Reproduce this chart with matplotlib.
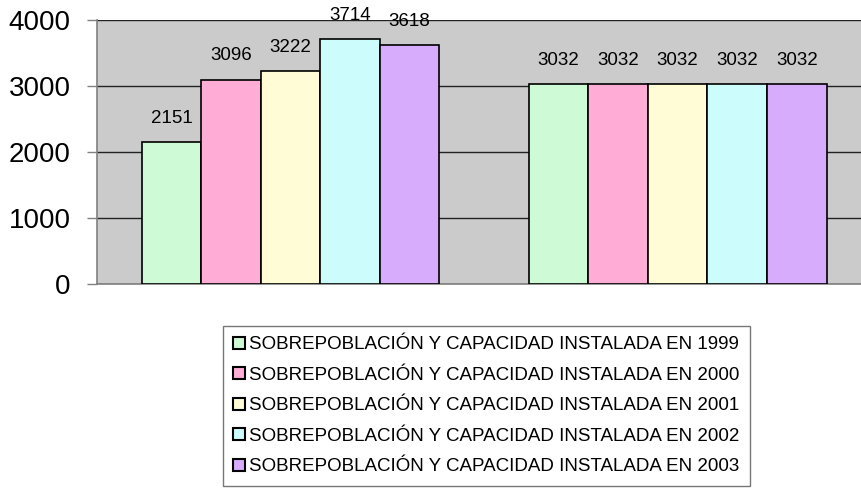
import matplotlib.pyplot as plt
import numpy as np

plt.rcParams['font.family'] = ['Liberation Sans', 'DejaVu Sans']

# two groups, five series (years)
groups = ['Sobrepoblación', 'Capacidad instalada']
years = ['1999', '2000', '2001', '2002', '2003']
values_1999 = [2151, 3032]
values_2000 = [3096, 3032]
values_2001 = [3222, 3032]
values_2002 = [3714, 3032]
values_2003 = [3618, 3032]
series = [values_1999, values_2000, values_2001, values_2002, values_2003]
colors = ['#CFFAD6', '#FFADD6', '#FFFCD6', '#CCFCFC', '#D8ACFC']

fig = plt.figure(figsize=(8.62, 4.98), dpi=100)
ax = fig.add_axes([97 / 862, 1 - 284 / 498, 1 - 97 / 862, (284 - 20) / 498])
ax.set_facecolor('#CBCBCB')

x = np.arange(len(groups))
w = 0.1538
for i, (vals, col) in enumerate(zip(series, colors)):
    pos = x + (i - 2) * w
    bars = ax.bar(pos, vals, width=w, color=col, edgecolor='black', linewidth=1.2,
                  label='SOBREPOBLACIÓN Y CAPACIDAD INSTALADA EN ' + years[i], zorder=3)
    for b, v in zip(bars, vals):
        ax.annotate(str(v), xy=(b.get_x() + b.get_width() / 2, v), xytext=(0, 11),
                    textcoords='offset points', ha='center', va='bottom',
                    fontsize=13.5, annotation_clip=False)

ax.set_ylim(0, 4000)
ax.set_xlim(-0.5, 1.476)
ax.set_yticks([0, 1000, 2000, 3000, 4000])
ax.tick_params(axis='y', labelsize=20, length=7, width=1, color='#808080', pad=12)
ax.set_xticks([])
ax.yaxis.grid(True, color='#222222', linewidth=1, zorder=0)
ax.set_axisbelow(True)
for s in ['top', 'right']:
    ax.spines[s].set_visible(False)
for s in ['left', 'bottom']:
    ax.spines[s].set_color('#808080')
    ax.spines[s].set_linewidth(1.2)

leg = fig.legend(loc='upper left', bbox_to_anchor=(223 / 862, 1 - 326 / 498),
                 fontsize=13.5, frameon=True, fancybox=False, edgecolor='#555555',
                 handlelength=0.6, handleheight=0.6, handletextpad=0.25,
                 labelspacing=0.72, borderpad=0.55, borderaxespad=0)
leg.get_frame().set_linewidth(1)
for h in leg.legend_handles:
    h.set_linewidth(1.5)

fig.savefig('out.png', dpi=100)
